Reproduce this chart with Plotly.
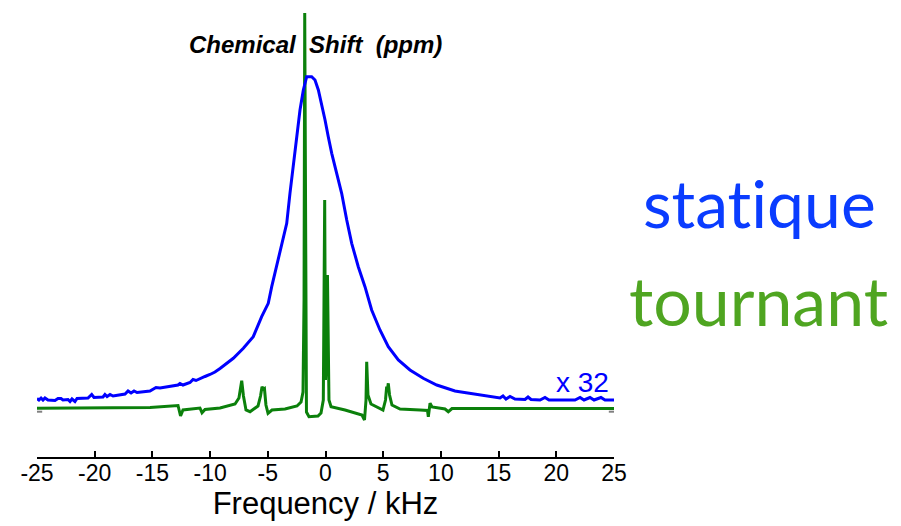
import plotly.graph_objects as go

# Frequency axis (kHz)
X_MIN, X_MAX = -25, 25
TICK_VALUES = [-25, -20, -15, -10, -5, 0, 5, 10, 15, 20, 25]
TICK_LABELS = ["-25", "-20", "-15", "-10", "-5", "0", "5", "10", "15", "20", "25"]

# Static spectrum (scaled x 32), intensity in arbitrary units above its own baseline
static_khz = [
    -25.0, -24.83, -24.65, -24.48, -24.31, -24.05, -23.44, -23.18, -22.92, -22.75,
    -22.31, -22.14, -21.97, -21.71, -21.53, -20.58, -20.26, -20.06, -19.28, -19.11,
    -18.93, -18.67, -18.41, -17.37, -17.11, -16.85, -16.59, -16.33, -15.21, -14.69,
    -14.34, -14.08, -13.48, -12.78, -12.61, -12.35, -11.74, -11.48, -11.22, -10.88,
    -10.44, -10.01, -9.58, -9.14, -7.99, -7.12, -6.26, -5.53, -4.96, -4.66,
    -4.23, -3.80, -3.36, -3.08, -2.79, -2.50, -2.21, -1.92, -1.63, -1.20,
    -0.91, -0.62, -0.48, -0.04, 0.24, 0.54, 0.97, 1.40, 1.84, 2.27,
    2.84, 3.42, 4.00, 4.72, 5.44, 6.31, 7.32, 8.47, 9.64, 10.18,
    10.79, 11.22, 11.48, 11.92, 12.52, 12.96, 13.65, 14.25, 15.12, 15.38,
    15.64, 15.99, 16.42, 17.29, 17.55, 17.81, 18.59, 19.02, 19.37, 20.32,
    21.62, 22.06, 22.40, 22.92, 23.27, 23.87, 24.22, 25.0,
]
static_int = [
    1.5, 0, 2, 0, 2, 0, -0.5, 1.5, 1.5, 0,
    0.5, -1.5, 1, -1.5, 1.5, 2, 5.5, 2.5, 3, 5.5,
    3.5, 5.5, 4, 6, 9, 7, 9, 7.5, 9, 12.5,
    12, 12.5, 13, 15, 16.5, 15, 17.5, 20.5, 19.5, 21.5,
    23.5, 25.5, 28, 31.5, 41.7, 51.7, 63.3, 83.3, 96.7, 113.3,
    133.3, 153.3, 176.7, 206.7, 233.3, 260, 290, 310, 323.3, 323.3,
    320, 310, 303.3, 280, 263.3, 246.7, 226.7, 206.7, 180, 156.7,
    133.3, 113.3, 90, 70, 53.3, 40, 30, 21.7, 15, 13,
    10, 9, 8.5, 7.7, 7, 5.5, 4.3, 3.5, 2, 4,
    1, 3.5, 1, 0.5, 3, 0.5, 0, 2.5, 0, 0,
    0, 2.5, 0, 2.5, 0, 2.5, 0, 0,
]
STATIC_OFFSET = 8  # vertical shift of the static trace above the spinning one

# Spinning (MAS) spectrum, intensity in arbitrary units
mas_khz = [
    -25.0, -19.5, -15.2, -12.78, -12.56, -12.35, -11.31, -10.88, -10.70, -10.44,
    -9.14, -7.84, -7.50, -7.26, -7.11, -6.89, -6.54, -5.85, -5.63, -5.50,
    -5.37, -5.29, -5.16, -4.98, -4.64, -3.51, -2.47, -2.12, -1.95, -1.86,
    -1.80, -1.73, -1.65, -1.43, -0.65, -0.39, -0.19, -0.13, -0.07, 0.0,
    0.09, 0.17, 0.24, 0.30, 0.48, 1.69, 3.16, 3.38, 3.51, 3.57,
    3.68, 3.94, 4.98, 5.20, 5.30, 5.37, 5.44, 5.55, 5.76, 6.46,
    8.19, 8.84, 8.91, 9.06, 9.23, 10.36, 10.64, 10.96, 12.52, 15.12,
    25.0,
]
mas_int = [
    -0.3, 0, 0.5, 2.5, -8, -2, -1, 0, -4.7, -1.5,
    0, 4, 10, 27.3, 12, -2, -3.7, 2, 12, 21.3,
    19, 19.5, 3, -5.3, -2, -1, 2, 6, 16, 108,
    395, 108, -4, -8.7, -8, -5, 8, 108, 208, 28,
    58, 133, 58, 8, 1.3, -2, -7, -12, 8, 46.3,
    13, 4, -2, 8, 21.3, 18, 24.7, 13, 3, -1,
    -2, -2.5, -8.7, 4.7, 1, -1, -3.7, -0.5, -0.5, -0.5,
    -0.5,
]

Y_MIN, Y_MAX = -49, 408
ZERO_MARK = -3.7   # level of the small grey baseline markers
MARK_LEN = 0.45    # kHz

BLUE = "#0000ff"
GREEN = "#0b800b"

fig = go.Figure()

fig.add_trace(go.Scatter(
    x=mas_khz, y=mas_int, mode="lines",
    line=dict(color=GREEN, width=3), hoverinfo="skip", showlegend=False,
))
fig.add_trace(go.Scatter(
    x=static_khz, y=[v + STATIC_OFFSET for v in static_int], mode="lines",
    line=dict(color=BLUE, width=3), hoverinfo="skip", showlegend=False,
))

# short grey baseline markers at both ends of the frequency window
for x0, x1 in [(X_MIN, X_MIN + MARK_LEN), (X_MAX - MARK_LEN, X_MAX)]:
    fig.add_trace(go.Scatter(
        x=[x0, x1], y=[ZERO_MARK, ZERO_MARK], mode="lines",
        line=dict(color="#808080", width=2), hoverinfo="skip", showlegend=False,
    ))

fig.update_layout(
    width=901, height=526,
    margin=dict(l=37, r=287, t=0, b=69),
    paper_bgcolor="white", plot_bgcolor="white",
    xaxis=dict(
        range=[X_MIN, X_MAX], tickvals=TICK_VALUES, ticktext=TICK_LABELS,
        showline=True, linecolor="black", linewidth=1.5,
        ticks="inside", ticklen=6, tickwidth=1.5, tickcolor="black",
        showgrid=False, zeroline=False,
        ticklabelstandoff=-5,
        tickfont=dict(family="Liberation Sans, Arial", size=23, color="black"),
        title=dict(text="Frequency / kHz", standoff=7,
                   font=dict(family="Liberation Sans, Arial", size=31, color="black")),
    ),
    yaxis=dict(range=[Y_MIN, Y_MAX], visible=False),
)

fig.add_annotation(
    text="Chemical\u00a0 Shift\u00a0 (ppm)", xref="paper", yref="paper", x=0.482, y=0.902,
    showarrow=False, xanchor="center", yanchor="middle",
    font=dict(family="Liberation Sans, Arial", size=24,
              color="black", weight="bold", style="italic"),
)
fig.add_annotation(
    text="x 32", xref="paper", yref="paper", x=0.946, y=0.163,
    showarrow=False, xanchor="center", yanchor="middle",
    font=dict(family="Liberation Sans, Arial", size=28, color=BLUE),
)
fig.add_annotation(
    text="stat\u200cique", xref="paper", yref="paper", x=1.253, y=0.556,
    showarrow=False, xanchor="center", yanchor="middle",
    font=dict(family="Lato", size=66, color="#0a3cff"),
)
fig.add_annotation(
    text="tournant", xref="paper", yref="paper", x=1.251, y=0.344,
    showarrow=False, xanchor="center", yanchor="middle",
    font=dict(family="Lato", size=68, color="#4fa521"),
)

fig.write_html("out.html")
